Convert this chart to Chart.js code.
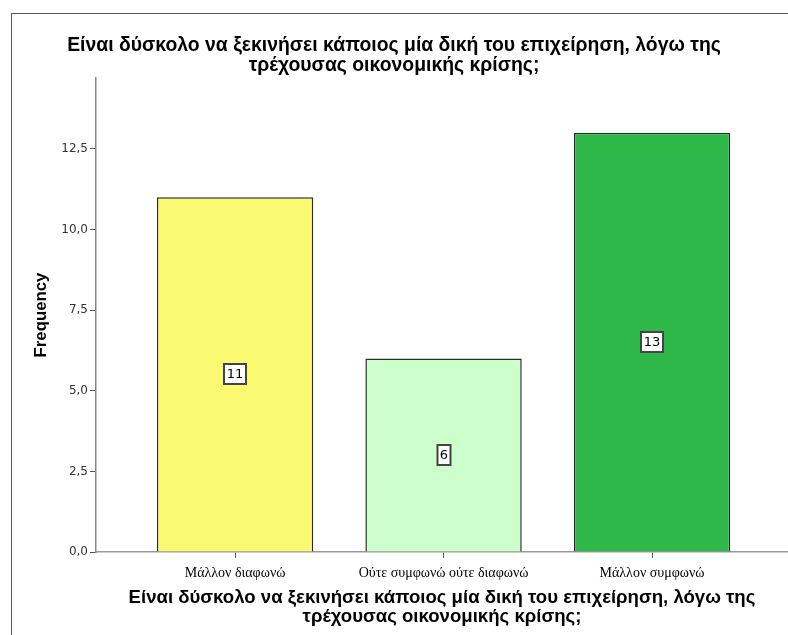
<!DOCTYPE html>
<html>
<head>
<meta charset="utf-8">
<script src="https://cdn.jsdelivr.net/npm/chart.js@4"></script>
<style>
  html, body { margin: 0; padding: 0; background: #fff; }
</style>
</head>
<body>
<canvas id="grafico" width="788" height="635"></canvas>
<script>
// datos
const categorias = ['Μάλλον διαφωνώ', 'Ούτε συμφωνώ ούτε διαφωνώ', 'Μάλλον συμφωνώ'];
const frecuencias = [11, 6, 13];
const colores = ['#FBF872', '#CCFFCC', '#2FB84A'];
const ticksY = [0, 2.5, 5, 7.5, 10, 12.5];
const titulo = ['Είναι δύσκολο να ξεκινήσει κάποιος μία δική του επιχείρηση, λόγω της', 'τρέχουσας οικονομικής κρίσης;'];
const tituloX = titulo;
const tituloY = 'Frequency';

// marco y títulos (arriba y eje x)
const marco = {
  id: 'marco',
  beforeDraw(chart) {
    const ctx = chart.ctx;
    ctx.save();
    ctx.fillStyle = '#fff';
    ctx.fillRect(0, 0, chart.width, chart.height);
    ctx.strokeStyle = '#555';
    ctx.lineWidth = 1;
    ctx.strokeRect(11.5, 13.5, 800, 700);
    ctx.restore();
  },
  afterDraw(chart) {
    const ctx = chart.ctx;
    const area = chart.chartArea;
    ctx.save();
    ctx.fillStyle = '#000';
    ctx.textAlign = 'center';
    ctx.textBaseline = 'middle';
    ctx.font = 'bold 19.4px "Liberation Sans", Arial';
    titulo.forEach((t, i) => ctx.fillText(t, 394, 46 + i * 20));
    ctx.font = 'bold 18.6px "Liberation Sans", Arial';
    const cx = (area.left + area.right) / 2;
    tituloX.forEach((t, i) => ctx.fillText(t, cx, 598 + i * 19));
    ctx.restore();
  }
};

// etiquetas con el valor dentro de cada barra
const etiquetas = {
  id: 'etiquetas',
  afterDatasetsDraw(chart) {
    const ctx = chart.ctx;
    const meta = chart.getDatasetMeta(0);
    ctx.save();
    ctx.font = '13px "DejaVu Sans"';
    ctx.textAlign = 'center';
    ctx.textBaseline = 'middle';
    meta.data.forEach((bar, i) => {
      const txt = String(frecuencias[i]);
      const cx = Math.round(bar.x);
      const cy = Math.round((bar.y + bar.base) / 2);
      const w = Math.round(ctx.measureText(txt).width) + 5;
      const h = 20;
      ctx.fillStyle = '#fff';
      ctx.fillRect(cx - w / 2, cy - h / 2, w, h);
      ctx.strokeStyle = '#444';
      ctx.lineWidth = 2;
      ctx.strokeRect(cx - w / 2, cy - h / 2, w, h);
      ctx.fillStyle = '#000';
      ctx.fillText(txt, cx, cy + 1);
    });
    ctx.restore();
  }
};

const chartFrec = new Chart(document.getElementById('grafico').getContext('2d'), {
  type: 'bar',
  data: {
    datasets: [{
      data: categorias.map((c, i) => ({ x: i, y: frecuencias[i] })),
      backgroundColor: colores,
      borderColor: '#2a2a2a',
      borderWidth: 1.5,
      barPercentage: 0.75,
      categoryPercentage: 1
    }]
  },
  options: {
    responsive: false,
    animation: false,
    devicePixelRatio: 1,
    layout: { padding: { top: 78, right: 0, bottom: 0, left: 0 } },
    plugins: {
      legend: { display: false },
      tooltip: { enabled: false },
      title: { display: false }
    },
    scales: {
      x: {
        type: 'linear',
        offset: false,
        min: -0.667,
        max: 2.652,
        afterBuildTicks: (s) => { s.ticks = categorias.map((c, i) => ({ value: i })); },
        afterFit: (s) => { s.height = 83; },
        ticks: {
          autoSkip: false,
          maxRotation: 0,
          padding: 7,
          color: '#000',
          font: { family: '"Liberation Serif", "Times New Roman"', size: 14 },
          callback: (v) => categorias[v]
        },
        grid: { drawOnChartArea: false, offset: false, tickLength: 6, color: '#555' },
        border: { color: '#999', width: 1.5 }
      },
      y: {
        min: 0,
        max: 14.7,
        afterBuildTicks: (s) => { s.ticks = ticksY.map(v => ({ value: v })); },
        afterFit: (s) => { s.width = 96; },
        ticks: {
          color: '#333',
          padding: 2,
          font: { family: '"DejaVu Sans"', size: 12 },
          callback: (v) => v.toFixed(1).replace('.', ',')
        },
        grid: { drawOnChartArea: false, tickLength: 6, color: '#555' },
        border: { color: '#888', width: 1.5 },
        title: {
          display: true,
          text: tituloY,
          color: '#000',
          font: { family: '"Liberation Sans", Arial', size: 16.8, weight: 'bold', lineHeight: 1.2 },
          padding: { top: 31, bottom: 0 }
        }
      }
    }
  },
  plugins: [marco, etiquetas]
});
</script>
</body>
</html>
